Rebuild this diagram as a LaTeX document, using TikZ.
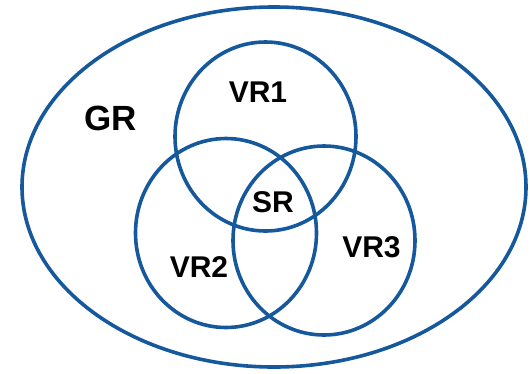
\documentclass[tikz,border=0pt]{standalone}
\usepackage{fontspec}
\setmainfont{Liberation Sans}
\usetikzlibrary{shapes.geometric}
\definecolor{vennblue}{RGB}{22,88,156}
\tikzset{
  region/.style={ellipse, draw=vennblue, line width=3.6pt, inner sep=0pt},
  lbl/.style={font=\fontsize{30}{36}\selectfont\bfseries, inner sep=0pt, text=black}
}
\begin{document}
\begin{tikzpicture}[x=1pt,y=-1pt]
\useasboundingbox (0,0) rectangle (530,373);
\node[region, minimum width=504pt, minimum height=360pt] (gr) at (274,187) {};
\node[region, minimum width=181pt, minimum height=189pt] (vr1) at (265.5,136.5) {};
\node[region, minimum width=181pt, minimum height=189pt] (vr2) at (226,233) {};
\node[region, minimum width=182pt, minimum height=189pt] (vr3) at (324,240.5) {};
\node[lbl, font=\fontsize{35}{42}\selectfont\bfseries] (tgr) at (110.5,118) {GR};
\node[lbl] (tvr1) at (258,92.5) {VR1};
\node[lbl] (tsr) at (273,202.5) {SR};
\node[lbl] (tvr2) at (199,267) {VR2};
\node[lbl] (tvr3) at (371.5,247.5) {VR3};
\end{tikzpicture}
\end{document}
